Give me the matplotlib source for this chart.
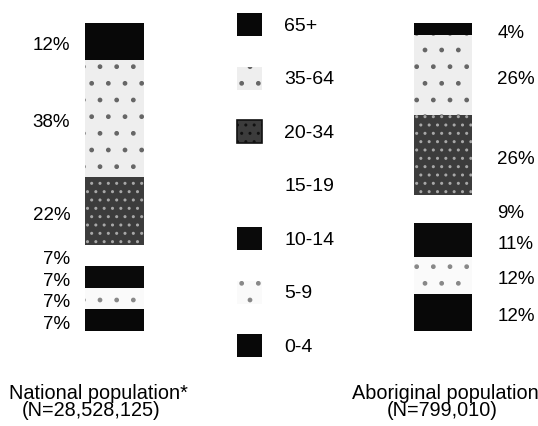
import matplotlib
matplotlib.use("Agg")
import matplotlib.pyplot as plt
from matplotlib.patches import Patch

plt.rcParams['font.family'] = ['Liberation Sans', 'DejaVu Sans']

# ---- data ----
age_groups = ["0-4", "5-9", "10-14", "15-19", "20-34", "35-64", "65+"]
groups = ["National population*", "Aboriginal population"]
group_n = ["(N=28,528,125)", "(N=799,010)"]
national = [7, 7, 7, 7, 22, 38, 12]
aboriginal = [12, 12, 11, 9, 26, 26, 4]

# ---- styles ----
faces = ['#080808', '#fafafa', '#0a0a0a', '#ffffff', '#3c3c3c', '#eeeeee', '#080808']
hatches = [None, '.', None, None, '..', '.', None]
hatch_cols = ['#080808', '#888888', '#0a0a0a', '#ffffff', '#a8a8a8', '#666666', '#080808']

W, H = 538, 426
fig = plt.figure(figsize=(W / 100, H / 100), dpi=100)
# axes: y=0 at 331 px from top, y=100 at 23 px from top
ax = fig.add_axes([0, (H - 331) / H, 1, 308 / H])
ax.set_ylim(0, 100)
scale = 328.0
ax.set_xlim(-114.5 / scale, (W - 114.5) / scale)
ax.axis('off')

bw = 58 / scale
xs = [0, 1]
series = [national, aboriginal]
for xi, vals in zip(xs, series):
    bottom = 0
    for k, v in enumerate(vals):
        ax.bar(xi, v, bottom=bottom, width=bw, color=faces[k],
               edgecolor=hatch_cols[k], linewidth=0, hatch=hatches[k])
        c = bottom + v / 2
        if xi == 0:
            ax.annotate(f"{v}%", (xi - 0.135, c), xytext=(0, -3),
                        textcoords='offset points', ha='right', va='center',
                        fontsize=13.5)
        else:
            ax.annotate(f"{v}%", (xi + 0.167, c), xytext=(0, -3),
                        textcoords='offset points', ha='left', va='center',
                        fontsize=13.5)
        bottom += v

# legend
handles = []
for k in range(len(age_groups) - 1, -1, -1):
    ec = '#111111' if age_groups[k] == '20-34' else hatch_cols[k]
    lw = 1.2 if age_groups[k] == '20-34' else 0
    handles.append(Patch(facecolor=faces[k], edgecolor=ec, linewidth=lw,
                         hatch=hatches[k], label=age_groups[k]))
fs = 14
fpx = fs * 100 / 72.0
box_h = 23.0
fig.legend(handles=handles, loc='upper left',
           bbox_to_anchor=(237 / W, 1 - 13 / H), frameon=False,
           fontsize=fs, borderpad=0, borderaxespad=0,
           handlelength=25 / fpx, handleheight=(box_h / fpx - 0.245) / 0.65,
           labelspacing=(53.5 - box_h) / fpx, handletextpad=22 / fpx)

# group labels
label_x = [-0.05, 1.0]
for gx, name, n in zip(label_x, groups, group_n):
    ax.text(gx + (0.0 if gx < 0.5 else 0.01), -20.2, name, ha='center',
            va='center', fontsize=14.3)
    ax.text(gx - (0.022 if gx < 0.5 else 0.0), -25.8, n, ha='center',
            va='center', fontsize=14.3)

fig.savefig("out.png", dpi=100)
